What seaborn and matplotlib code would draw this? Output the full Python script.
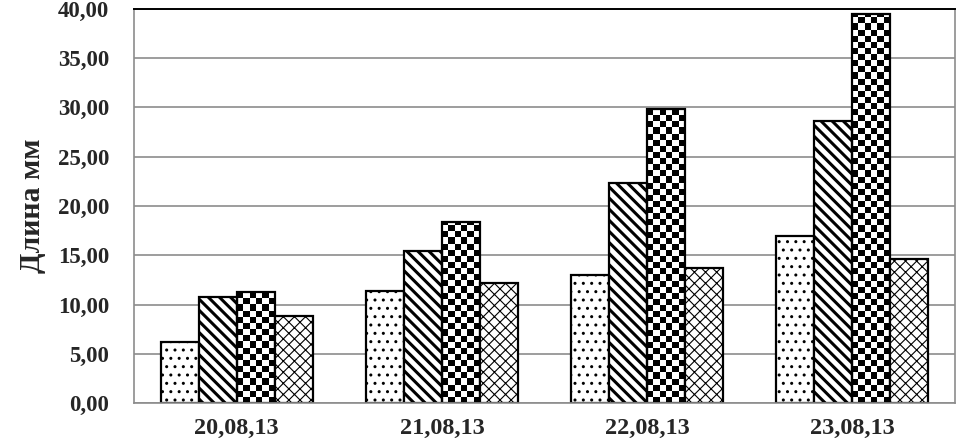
import numpy as np
import pandas as pd
import seaborn as sns
import matplotlib.pyplot as plt
from matplotlib.ticker import FuncFormatter, FixedLocator

dates = ['20,08,13', '21,08,13', '22,08,13', '23,08,13']
series = ['s1', 's2', 's3', 's4']
s1 = [6.2, 11.4, 13.0, 17.0]
s2 = [10.8, 15.4, 22.3, 28.6]
s3 = [11.3, 18.4, 29.8, 39.5]
s4 = [8.8, 12.2, 13.7, 14.6]


def main():
  rows = []
  for name, vals in zip(series, [s1, s2, s3, s4]):
    for d, v in zip(dates, vals):
      rows.append({'date': d, 'series': name, 'value': v})
  df = pd.DataFrame(rows)

  sns.set_style('white')
  plt.rcParams['font.family'] = ['Liberation Serif', 'DejaVu Serif']
  plt.rcParams['font.weight'] = 'bold'
  plt.rcParams['hatch.color'] = 'black'

  fig = plt.figure(figsize=(9.57, 4.45), dpi=100)
  ax = fig.add_axes([0.140, 0.094, 0.858, 0.886])
  ax.set_axisbelow(True)
  ax.yaxis.grid(True, color='#8c8c8c', linewidth=1.2)

  sns.barplot(data=df, x='date', y='value', hue='series', order=dates, hue_order=series,
              width=0.74, palette=['white'] * 4, edgecolor='black', linewidth=1.6,
              saturation=1, legend=False, ax=ax)

  hatches = ['..', '\\\\\\', None, 'xxx']
  hlw = [1.0, 2.2, 1.0, 0.8]
  for cont, h, lw in zip(ax.containers, hatches, hlw):
    for p in cont:
      p.set_zorder(2)
      if h is not None:
        p.set_hatch(h)
        if hasattr(p, 'set_hatch_linewidth'):
          p.set_hatch_linewidth(lw)

  # checkerboard fill for the third series
  for p in ax.containers[2]:
    x0 = p.get_x()
    w = p.get_width()
    h = p.get_height()
    nx = 6
    ny = max(1, int(round(h / 0.62)))
    ii, jj = np.indices((ny, nx))
    board = ((ii + jj) % 2).astype(float)
    im = ax.imshow(board, cmap='gray_r', interpolation='nearest', aspect='auto',
                   extent=(x0, x0 + w, 0, ny * 0.62), origin='lower', zorder=1.5)
    im.set_clip_path(p)
    p.set_facecolor('none')

  ax.set_xlim(-0.5, 3.5)
  ax.set_ylim(0, 40)
  ax.set_yticks(np.arange(0, 40.1, 5))
  ax.yaxis.set_major_formatter(FuncFormatter(lambda v, _: f'{v:.2f}'.replace('.', ',')))
  ax.xaxis.set_minor_locator(FixedLocator([-0.5, 0.5, 1.5, 2.5, 3.5]))
  ax.tick_params(axis='y', which='major', length=5, width=1, color='#8c8c8c', pad=13, labelsize=16.5)
  ax.tick_params(axis='x', which='major', length=0, pad=11, labelsize=17.5)
  ax.tick_params(axis='x', which='minor', length=7, width=1, color='#8c8c8c', direction='out')
  for lab in ax.get_xticklabels() + ax.get_yticklabels():
    lab.set_fontweight('bold')

  for side in ['left', 'right', 'bottom']:
    ax.spines[side].set_color('#8c8c8c')
    ax.spines[side].set_linewidth(1.2)
  ax.spines['top'].set_color('black')
  ax.spines['top'].set_linewidth(1.4)

  ax.set_xlabel('')
  ax.set_ylabel('Длина мм', fontsize=21.5, fontweight='bold', labelpad=8)

  fig.savefig('out.png', dpi=100)


if __name__ == '__main__':
  main()
